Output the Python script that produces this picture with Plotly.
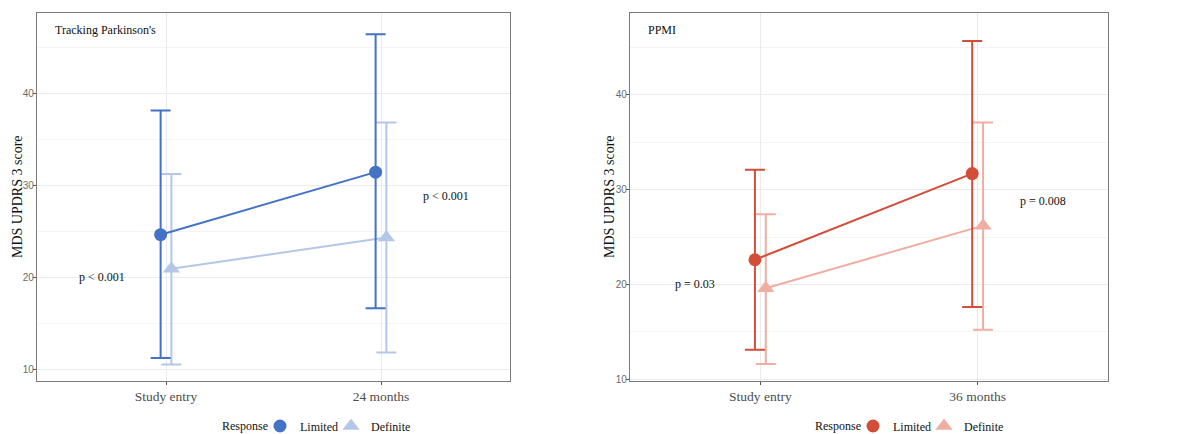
import plotly.graph_objects as go

# ---- data -----------------------------------------------------------------
groups = ["Limited", "Definite"]

tp_timepoints = ["Study entry", "24 months"]
tp_limited_mean = [24.6, 31.4]
tp_limited_low = [11.2, 16.6]
tp_limited_high = [38.1, 46.4]
tp_definite_mean = [20.9, 24.3]
tp_definite_low = [10.5, 11.8]
tp_definite_high = [31.2, 36.8]
tp_pvalues = ["p < 0.001", "p < 0.001"]

ppmi_timepoints = ["Study entry", "36 months"]
ppmi_limited_mean = [22.6, 31.7]
ppmi_limited_low = [13.1, 17.6]
ppmi_limited_high = [32.1, 45.7]
ppmi_definite_mean = [19.6, 26.2]
ppmi_definite_low = [11.6, 15.2]
ppmi_definite_high = [27.4, 37.1]
ppmi_pvalues = ["p = 0.03", "p = 0.008"]

# ---- style ----------------------------------------------------------------
W, H = 1184, 434
SERIF = "Liberation Serif, Times New Roman, serif"
SANS = "Liberation Sans, Arial, sans-serif"
TXT = "#111111"
DODGE = 0.025
BLUE = ["#4472C4", "#B4C7E7"]
RED = ["#D24E38", "#F0ADA2"]
SYMBOLS = ["circle", "triangle-up"]
SIZES = [13, 15]
PVAL_POS = [(0.70, 20.0), (2.30, 28.85)]
LEGEND_Y = 1 - 426 / H
# legend symbol centres (px) per panel: Limited, Definite; plus "Response" label centre
LEGEND_SYMBOL_PX = {1: (280, 351), 2: (873, 944)}
RESPONSE_PX = {1: 245, 2: 838}

fig = go.Figure()


def add_panel(n, timepoints, means, lows, highs, colors, pvalues, label):
    xa = "x" if n == 1 else f"x{n}"
    ya = "y" if n == 1 else f"y{n}"
    xpos = [i + 1 for i in range(len(timepoints))]
    offsets = [-DODGE, DODGE]
    # lighter group first so the darker one sits on top
    for g in [1, 0]:
        xs = [x + offsets[g] for x in xpos]
        m, lo, hi = means[g], lows[g], highs[g]
        fig.add_trace(go.Scatter(
            x=xs, y=m, mode="lines", xaxis=xa, yaxis=ya,
            line=dict(color=colors[g], width=2),
            error_y=dict(type="data", symmetric=False,
                         array=[h - v for h, v in zip(hi, m)],
                         arrayminus=[v - l for v, l in zip(m, lo)],
                         color=colors[g], thickness=2, width=10),
            showlegend=False, hoverinfo="skip"))
    for g in [1, 0]:
        xs = [x + offsets[g] for x in xpos]
        idx = (n - 1) * 2 + g + 1
        legend_id = "legend" if idx == 1 else f"legend{idx}"
        fig.add_trace(go.Scatter(
            x=xs, y=means[g], mode="markers", xaxis=xa, yaxis=ya,
            name=groups[g], legend=legend_id,
            marker=dict(color=colors[g], symbol=SYMBOLS[g], size=SIZES[g],
                        line=dict(width=0)),
            showlegend=True))
        sym_px = LEGEND_SYMBOL_PX[n][g]
        fig.update_layout({legend_id: dict(
            x=(sym_px - 20) / W, xanchor="left", y=LEGEND_Y, yanchor="middle",
            orientation="h", bgcolor="rgba(0,0,0,0)", borderwidth=0,
            font=dict(family=SERIF, size=12, color=TXT))})
    fig.add_annotation(x=RESPONSE_PX[n] / W, y=LEGEND_Y, xref="paper", yref="paper",
                       text="Response", showarrow=False, xanchor="center", yanchor="middle",
                       font=dict(family=SERIF, size=12, color=TXT))
    for (px, py), txt in zip(PVAL_POS, pvalues):
        fig.add_annotation(x=px, y=py, xref=xa, yref=ya, text=txt, showarrow=False,
                           font=dict(family=SERIF, size=12, color=TXT))
    fig.add_annotation(x=0.034, y=0.955, xref=f"{xa} domain", yref=f"{ya} domain",
                       text=label, showarrow=False, xanchor="left", yanchor="middle",
                       font=dict(family=SERIF, size=12, color=TXT))


add_panel(1, tp_timepoints,
          [tp_limited_mean, tp_definite_mean],
          [tp_limited_low, tp_definite_low],
          [tp_limited_high, tp_definite_high],
          BLUE, tp_pvalues, "Tracking Parkinson's")
add_panel(2, ppmi_timepoints,
          [ppmi_limited_mean, ppmi_definite_mean],
          [ppmi_limited_low, ppmi_definite_low],
          [ppmi_limited_high, ppmi_definite_high],
          RED, ppmi_pvalues, "PPMI")

ydom = [1 - 381 / H, 1 - 13 / H]
common_x = dict(range=[0.4, 2.6], tickvals=[1, 2], showgrid=True, gridcolor="#EBEBEB",
                gridwidth=1, zeroline=False, showline=True, linecolor="#7a7a7a",
                linewidth=1.2, mirror=True, ticks="outside", ticklen=3, tickcolor="#555",
                tickfont=dict(family=SERIF, size=13.5, color="#4d4d4d"))
common_y = dict(dtick=10, showgrid=True, gridcolor="#EBEBEB", gridwidth=1, zeroline=False,
                showline=True, linecolor="#7a7a7a", linewidth=1.2, mirror=True,
                ticks="outside", ticklen=3, tickcolor="#555", ticklabelstandoff=-3,
                tickfont=dict(family=SANS, size=10, color="#6b6b6b"),
                minor=dict(dtick=5, showgrid=True, gridcolor="#F4F4F4", gridwidth=1),
                domain=ydom)

fig.update_layout(
    width=W, height=H, margin=dict(l=0, r=0, t=0, b=0, autoexpand=False),
    paper_bgcolor="white", plot_bgcolor="white",
    xaxis=dict(domain=[37 / W, 510 / W], ticktext=tp_timepoints, anchor="y", **common_x),
    xaxis2=dict(domain=[630 / W, 1108 / W], ticktext=ppmi_timepoints, anchor="y2", **common_x),
    yaxis=dict(range=[8.7, 48.7], anchor="x", **common_y),
    yaxis2=dict(range=[9.8, 48.65], anchor="x2", **common_y),
)

# rotated y-axis titles beside each panel
for xc in (17, 609):
    fig.add_annotation(x=xc / W, y=(ydom[0] + ydom[1]) / 2, xref="paper", yref="paper",
                       text="MDS UPDRS 3 score", textangle=-90, showarrow=False,
                       xanchor="center", yanchor="middle",
                       font=dict(family=SERIF, size=14, color=TXT))

fig.write_html("out.html")
